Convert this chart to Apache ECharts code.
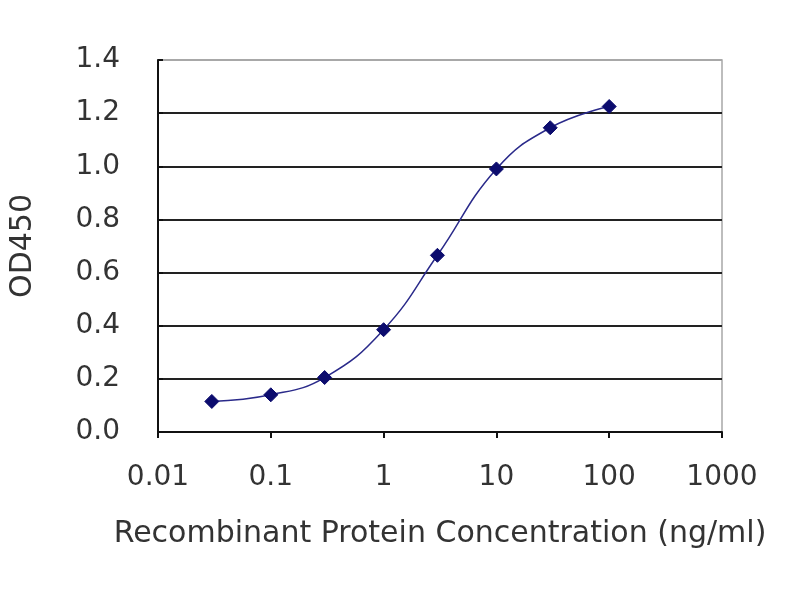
<!DOCTYPE html>
<html>
<head>
<meta charset="utf-8">
<script src="https://cdn.jsdelivr.net/npm/echarts@6/dist/echarts.min.js"></script>
<style>
  html, body { margin: 0; padding: 0; background: #ffffff; }
  #chart { width: 800px; height: 600px; }
</style>
</head>
<body>
<div id="chart"></div>
<script>
// Data
const concentrations = [0.03, 0.1, 0.3, 1, 3, 10, 30, 100];
const od450 = [0.115, 0.14, 0.205, 0.385, 0.665, 0.99, 1.145, 1.225];
const xTickLabels = ['0.01', '0.1', '1', '10', '100', '1000'];
const xTickValues = [0.01, 0.1, 1, 10, 100, 1000];
const xAxisTitle = 'Recombinant Protein Concentration (ng/ml)';
const yAxisTitle = 'OD450';

const points = concentrations.map((c, i) => [c, od450[i]]);
const textColor = '#333333';
const fontFamily = '"DejaVu Sans", "Liberation Sans", Arial, sans-serif';

const chart = echarts.init(document.getElementById('chart'), null, { renderer: 'canvas' });
chart.setOption({
  backgroundColor: '#ffffff',
  animation: false,
  grid: {
    left: 158, right: 78, top: 60, bottom: 168,
    show: true,
    borderColor: '#a8a8a8',
    borderWidth: 1.5,
    backgroundColor: 'transparent'
  },
  xAxis: {
    type: 'log',
    logBase: 10,
    min: 0.01,
    max: 1000,
    interval: 1,
    name: xAxisTitle,
    nameLocation: 'middle',
    nameGap: 87,
    nameTextStyle: { color: textColor, fontSize: 30, fontFamily: fontFamily },
    axisLine: { show: true, onZero: false, lineStyle: { color: '#111', width: 2 } },
    axisTick: { show: true, inside: false, length: 6, lineStyle: { color: '#111', width: 2 } },
    axisLabel: {
      color: textColor, fontSize: 28, fontFamily: fontFamily, margin: 32,
      formatter: function (v) {
        for (let i = 0; i < xTickValues.length; i++) {
          if (Math.abs(Math.log10(v) - Math.log10(xTickValues[i])) < 1e-6) return xTickLabels[i];
        }
        return '';
      }
    },
    splitLine: { show: false },
    minorTick: { show: false }
  },
  yAxis: {
    type: 'value',
    min: 0,
    max: 1.4,
    interval: 0.2,
    name: yAxisTitle,
    nameLocation: 'middle',
    nameGap: 120,
    nameRotate: 90,
    nameTextStyle: { color: textColor, fontSize: 30, fontFamily: fontFamily },
    axisLine: { show: true, lineStyle: { color: '#111', width: 2 } },
    axisTick: { show: true, inside: true, length: 5, lineStyle: { color: '#111', width: 2 } },
    axisLabel: {
      color: textColor, fontSize: 28, fontFamily: fontFamily, margin: 38,
      formatter: function (v) { return v.toFixed(1); }
    },
    splitLine: {
      show: true,
      lineStyle: {
        color: ['#111', '#222', '#222', '#222', '#222', '#222', '#222', '#a8a8a8'],
        width: 2
      }
    }
  },
  series: [{
    type: 'line',
    data: points,
    smooth: 0.45,
    symbol: 'diamond',
    symbolSize: 14,
    lineStyle: { color: '#2a2a8a', width: 1.5 },
    itemStyle: { color: '#0c0c6e', borderColor: '#0c0c6e' }
  }]
});
</script>
</body>
</html>
